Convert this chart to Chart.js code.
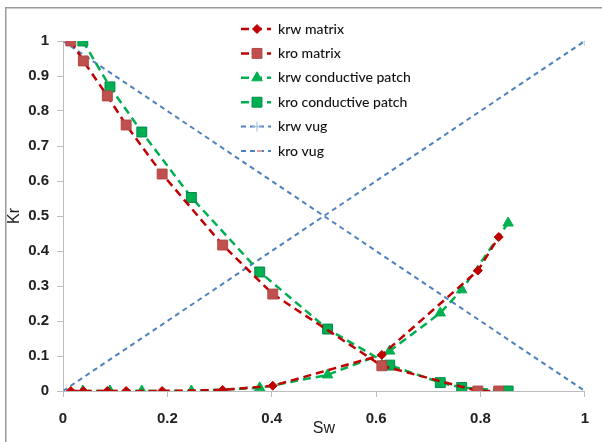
<!DOCTYPE html>
<html>
<head>
<meta charset="utf-8">
<script src="https://cdn.jsdelivr.net/npm/chart.js@4.4.1/dist/chart.umd.min.js"></script>
<style>
  body { margin: 0; background: #fff; }
  #wrap { width: 602px; height: 442px; }
</style>
</head>
<body>
<div id="wrap"><canvas id="krChart" width="602" height="442"></canvas></div>
<script>
// water saturation values per rock type
const swMatrix = [0.015, 0.039, 0.085, 0.121, 0.19, 0.306, 0.402, 0.611, 0.795, 0.835];
const krwMatrix = [0, 0, 0, 0, 0, 0.003, 0.015, 0.103, 0.344, 0.44];
const kroMatrix = [1.0, 0.943, 0.843, 0.76, 0.62, 0.417, 0.277, 0.072, 0, 0];

const swPatch = [0.038, 0.09, 0.151, 0.246, 0.377, 0.507, 0.626, 0.723, 0.764, 0.853];
const krwPatch = [0, 0, 0, 0, 0.009, 0.046, 0.114, 0.223, 0.289, 0.48];
const kroPatch = [1.0, 0.869, 0.74, 0.553, 0.34, 0.177, 0.074, 0.024, 0.01, 0];

const swVug = [0, 1];
const krwVug = [0, 1];
const kroVug = [1, 0];

const seriesNames = ["krw matrix", "kro matrix", "krw conductive patch", "kro conductive patch", "krw vug", "kro vug"];

const xTicks = [0, 0.2, 0.4, 0.6, 0.8, 1];
const yTicks = [0, 0.1, 0.2, 0.3, 0.4, 0.5, 0.6, 0.7, 0.8, 0.9, 1];

function toPoints(xs, ys) {
  return xs.map((x, i) => ({ x: x, y: ys[i] }));
}

const red = "#C00000";
const green = "#00B050";
const blue = "#4F81BD";

const datasets = [
  {
    label: seriesNames[0],
    data: toPoints(swMatrix, krwMatrix),
    borderColor: red,
    borderWidth: 2.5,
    borderDash: [8, 5],
    pointStyle: "rectRot",
    pointRadius: 4.5,
    pointBackgroundColor: red,
    pointBorderColor: red,
    pointBorderWidth: 1,
  },
  {
    label: seriesNames[1],
    data: toPoints(swMatrix, kroMatrix),
    borderColor: red,
    borderWidth: 2.5,
    borderDash: [8, 5],
    pointStyle: "rect",
    pointRadius: 7,
    pointBackgroundColor: "#C0504D",
    pointBorderColor: "#B04844",
    pointBorderWidth: 1,
  },
  {
    label: seriesNames[2],
    data: toPoints(swPatch, krwPatch),
    borderColor: green,
    borderWidth: 2.5,
    borderDash: [8, 5],
    pointStyle: "triangle",
    pointRadius: 6,
    pointBackgroundColor: green,
    pointBorderColor: green,
    pointBorderWidth: 1,
  },
  {
    label: seriesNames[3],
    data: toPoints(swPatch, kroPatch),
    borderColor: green,
    borderWidth: 2.5,
    borderDash: [8, 5],
    pointStyle: "rect",
    pointRadius: 7,
    pointBackgroundColor: green,
    pointBorderColor: "#00894A",
    pointBorderWidth: 1,
  },
  {
    label: seriesNames[4],
    data: toPoints(swVug, krwVug),
    borderColor: blue,
    borderWidth: 2,
    borderDash: [5, 4],
    pointStyle: "cross",
    pointRadius: 5,
    pointBackgroundColor: "#9DB7DA",
    pointBorderColor: "#9DB7DA",
    pointBorderWidth: 1,
  },
  {
    label: seriesNames[5],
    data: toPoints(swVug, kroVug),
    borderColor: blue,
    borderWidth: 2,
    borderDash: [5, 4],
    pointStyle: "dash",
    pointRadius: 5,
    pointBackgroundColor: "#E39B9B",
    pointBorderColor: "#E39B9B",
    pointBorderWidth: 2,
  },
];

// frame like the spreadsheet chart border (only left and top are visible)
const framePlugin = {
  id: "frame",
  beforeDraw(chart) {
    const ctx = chart.ctx;
    ctx.save();
    ctx.fillStyle = "#fff";
    ctx.fillRect(0, 0, chart.width, chart.height);
    ctx.fillStyle = "#9a9a9a";
    ctx.fillRect(5, 7, chart.width - 5, 1.5);
    ctx.fillRect(5, 7, 1.5, chart.height - 7);
    ctx.restore();
  },
};

// legend drawn inside the plot, like the original
const insideLegend = {
  id: "insideLegend",
  afterDraw(chart) {
    const ctx = chart.ctx;
    const x0 = 241, x1 = 271, mx = 257, tx = 278;
    const y0 = 29, dy = 24.4;
    ctx.save();
    chart.data.datasets.forEach((ds, i) => {
      const y = y0 + i * dy;
      ctx.strokeStyle = ds.borderColor;
      ctx.lineWidth = ds.borderWidth;
      ctx.setLineDash(ds.borderDash);
      ctx.beginPath();
      ctx.moveTo(x0, y);
      ctx.lineTo(x1, y);
      ctx.stroke();
      ctx.setLineDash([]);
      ctx.fillStyle = ds.pointBackgroundColor;
      ctx.strokeStyle = ds.pointBorderColor;
      ctx.lineWidth = ds.pointBorderWidth;
      Chart.helpers.drawPoint(ctx, { pointStyle: ds.pointStyle, radius: ds.pointRadius, borderWidth: ds.pointBorderWidth, rotation: 0 }, mx, y);
      ctx.fillStyle = "#111";
      ctx.font = "500 14px Lato";
      ctx.textBaseline = "middle";
      ctx.textAlign = "left";
      ctx.fillText(ds.label, tx, y);
    });
    ctx.restore();
  },
};

const tickFont = { family: "'Liberation Sans', Arial, sans-serif", size: 15, weight: "bold" };

new Chart(document.getElementById("krChart"), {
  type: "scatter",
  data: { datasets: datasets },
  options: {
    responsive: false,
    animation: false,
    layout: { padding: { left: 0, right: 17, top: 41, bottom: 0 } },
    datasets: { scatter: { showLine: true, tension: 0 } },
    plugins: {
      legend: { display: false },
      tooltip: { enabled: false },
    },
    scales: {
      x: {
        type: "linear",
        min: 0,
        max: 1,
        afterBuildTicks: (scale) => { scale.ticks = xTicks.map((v) => ({ value: v })); },
        afterFit: (scale) => { scale.height = 51; },
        grid: { drawOnChartArea: false, drawTicks: true, tickLength: 6, color: "#bdbdbd" },
        border: { color: "#bdbdbd", width: 1 },
        ticks: {
          color: "#222",
          font: tickFont,
          padding: 13,
          maxRotation: 0,
          callback: (v) => String(+v.toFixed(1)),
        },
        title: {
          display: true,
          text: "Sw",
          color: "#222",
          font: { family: "'Liberation Sans', Arial, sans-serif", size: 16 },
          padding: { top: 0, bottom: 4 },
        },
      },
      y: {
        type: "linear",
        min: 0,
        max: 1,
        afterBuildTicks: (scale) => { scale.ticks = yTicks.map((v) => ({ value: v })); },
        afterFit: (scale) => { scale.width = 63; },
        grid: { drawOnChartArea: false, drawTicks: true, tickLength: 6, color: "#bdbdbd" },
        border: { color: "#bdbdbd", width: 1 },
        ticks: {
          color: "#222",
          font: tickFont,
          padding: 8,
          callback: (v) => String(+v.toFixed(1)),
        },
        title: {
          display: true,
          text: "Kr",
          color: "#222",
          font: { family: "'Liberation Sans', Arial, sans-serif", size: 16 },
          padding: { top: 5, bottom: 0 },
        },
      },
    },
  },
  plugins: [framePlugin, insideLegend],
});
</script>
</body>
</html>
